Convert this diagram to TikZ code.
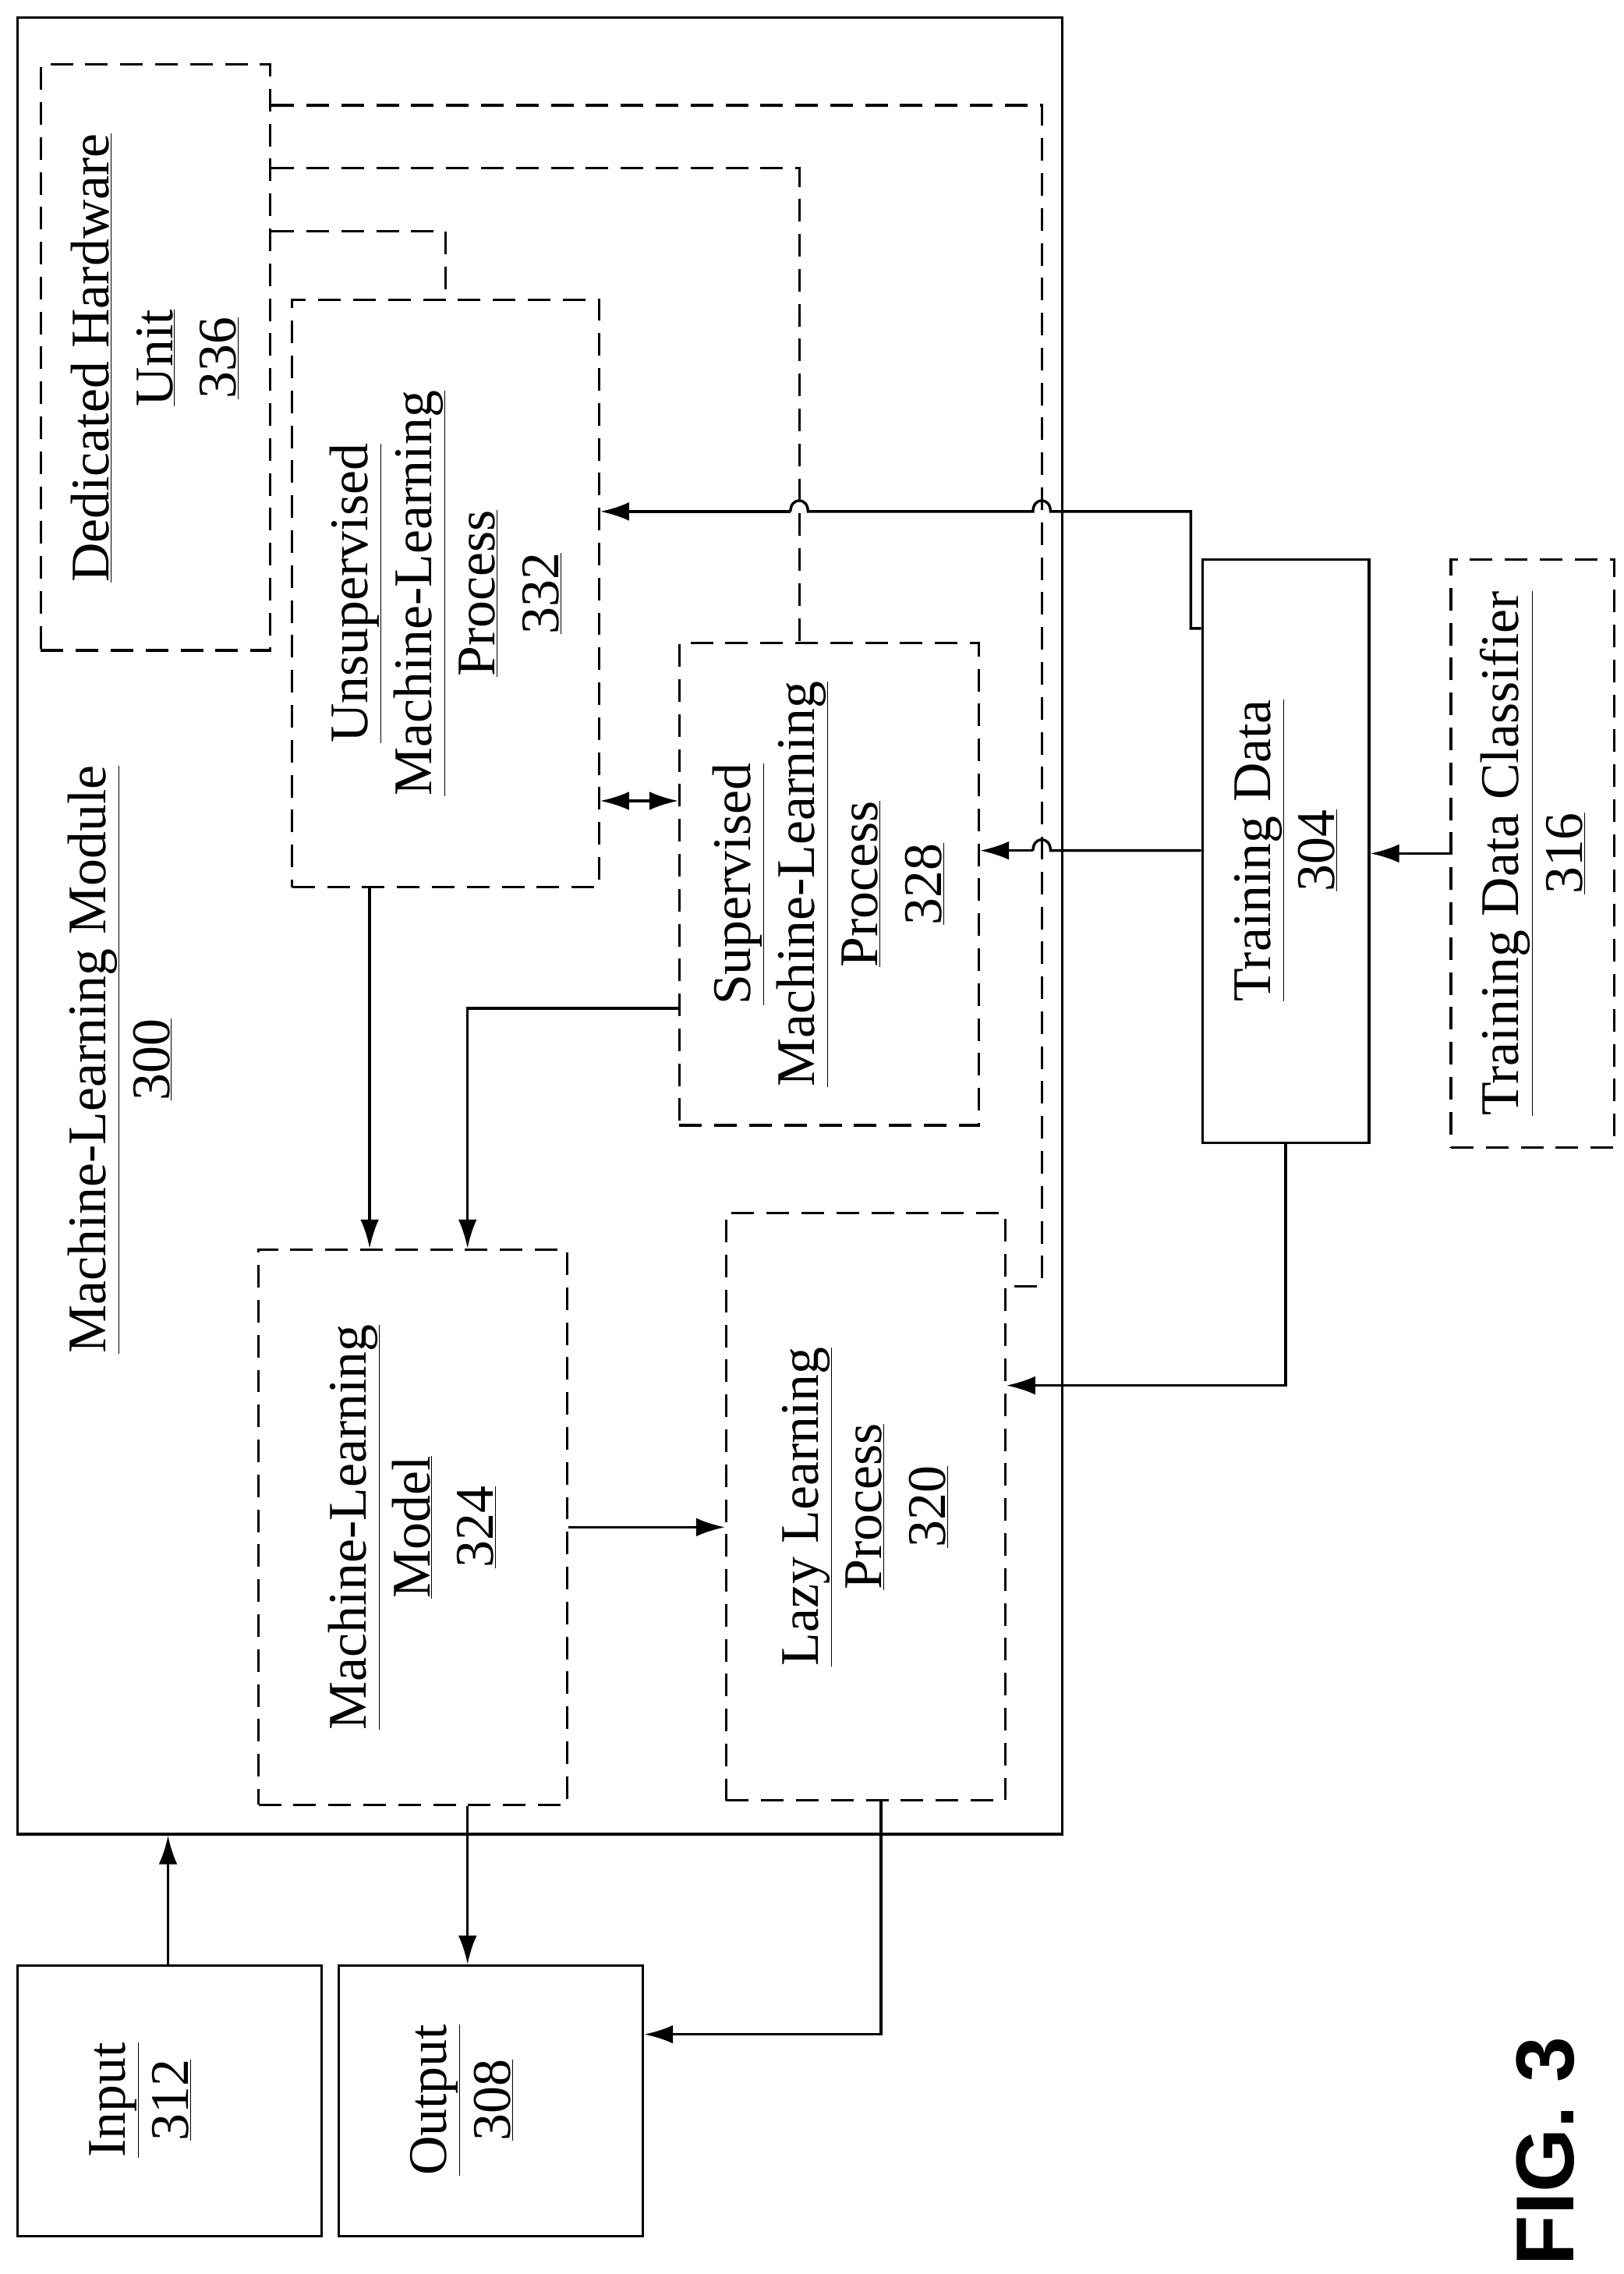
\documentclass[tikz,border=0pt]{standalone}
\usepackage{fontspec}
\setmainfont{Liberation Serif}
\newfontfamily\figfont{Liberation Sans}
\usetikzlibrary{arrows.meta}
\begin{document}
\begin{tikzpicture}[x=0.5mm,y=-0.5mm,
  solidbox/.style={draw,line width=2.6pt,inner sep=0pt},
  dashbox/.style={draw,line width=2.4pt,dash pattern=on 22pt off 12pt,inner sep=0pt},
  lbl/.style={rotate=90,align=center,font=\fontsize{53}{62}\selectfont,inner sep=0pt},
  tip/.style={Latex[length=28pt,width=18pt]},
  arr/.style={line width=2.6pt,-{Latex[length=28pt,width=18pt]}},
  dline/.style={line width=2.4pt,dash pattern=on 22pt off 12pt},
  line/.style={line width=2.6pt}]
\useasboundingbox (0,0) rectangle (1111,1556);
% boxes
\node[solidbox,minimum width=357.5mm,minimum height=621.5mm] (mod) at (369.5,633.5) {};
\node[dashbox,minimum width=78.5mm,minimum height=200.5mm] (dhu) at (106.5,244.5) {};
\node[dashbox,minimum width=105mm,minimum height=201mm] (uns) at (305,406) {};
\node[dashbox,minimum width=102.5mm,minimum height=165mm] (sup) at (567.5,605) {};
\node[dashbox,minimum width=105.5mm,minimum height=190mm] (mlm) at (282.5,1045) {};
\node[dashbox,minimum width=95.5mm,minimum height=201mm] (lazy) at (592.5,1031) {};
\node[solidbox,minimum width=57mm,minimum height=199.5mm] (td) at (880,582.5) {};
\node[dashbox,minimum width=56mm,minimum height=201mm] (tdc) at (1049,584) {};
\node[solidbox,minimum width=104mm,minimum height=92.5mm] (in) at (116,1437.5) {};
\node[solidbox,minimum width=104mm,minimum height=92.5mm] (out) at (336,1437.5) {};
% labels
\node[lbl] (tmod) at (82,725) {\underline{Machine-Learning Module}\\\underline{300}};
\node[lbl] (tdhu) at (106,245) {\underline{Dedicated Hardware}\\\underline{Unit}\\\underline{336}};
\node[lbl] (tuns) at (305,406) {\underline{Unsupervised}\\\underline{Machine-Learning}\\\underline{Process}\\\underline{332}};
\node[lbl] (tsup) at (567,605) {\underline{Supervised}\\\underline{Machine-Learning}\\\underline{Process}\\\underline{328}};
\node[lbl] (tmlm) at (282,1045) {\underline{Machine-Learning}\\\underline{Model}\\\underline{324}};
\node[lbl] (tlazy) at (592,1031) {\underline{Lazy Learning}\\\underline{Process}\\\underline{320}};
\node[lbl] (ttd) at (880,582) {\underline{Training Data}\\\underline{304}};
\node[lbl] (ttdc) at (1049,584) {\underline{Training Data Classifier}\\\underline{316}};
\node[lbl] (tin) at (96,1437) {\underline{Input}\\\underline{312}};
\node[lbl] (tout) at (316,1437) {\underline{Output}\\\underline{308}};
\node[rotate=90,font=\figfont\bfseries\fontsize{80}{90}\selectfont] (fig) at (1058,1472) {FIG. 3};
% dashed links from dedicated hardware
\draw[dline] (dhu.east |- 0,72) -| (713,880) -- (lazy.east |- 0,880);
\draw[dline] (dhu.east |- 0,115) -| (sup.north -| 547,0);
\draw[dline] (dhu.east |- 0,158) -| (uns.north -| 305,0);
% training data to unsupervised (with jumps)
\draw[line] (td.west |- 0,430) -- (815,430) -- (815,350) -- (719,350)
  .. controls (719,340) and (707,340) .. (707,350) -- (553,350)
  .. controls (553,340) and (541,340) .. (541,350);
\draw[arr] (541,350) -- (uns.east |- 0,350);
% training data to supervised
\draw[line] (td.west |- 0,582) -- (719,582) .. controls (719,572) and (707,572) .. (707,582);
\draw[arr] (707,582) -- (sup.east |- 0,582);
% training data to lazy
\draw[arr] (td.south -| 880,0) -- (880,948) -- (lazy.east |- 0,948);
% classifier to training data
\draw[arr] (tdc.west) -- (td.east |- tdc.west);
% uns <-> sup
\draw[line,{Latex[length=28pt,width=18pt]}-{Latex[length=28pt,width=18pt]}] (uns.east |- 0,548) -- (sup.west |- 0,548);
% uns to model
\draw[arr] (uns.south -| 253,0) -- (mlm.north -| 253,0);
% sup to model
\draw[arr] (sup.west |- 0,690) -| (mlm.north -| 320,0);
% model to lazy
\draw[arr] (mlm.east |- 0,1045) -- (lazy.west |- 0,1045);
% model to output
\draw[arr] (mlm.south -| 320,0) -- (out.north -| 320,0);
% lazy to output
\draw[arr] (lazy.south -| 603,0) |- (out.east |- 0,1392);
% input to module
\draw[arr] (in.north -| 115,0) -- (mod.south -| 115,0);
\end{tikzpicture}
\end{document}
